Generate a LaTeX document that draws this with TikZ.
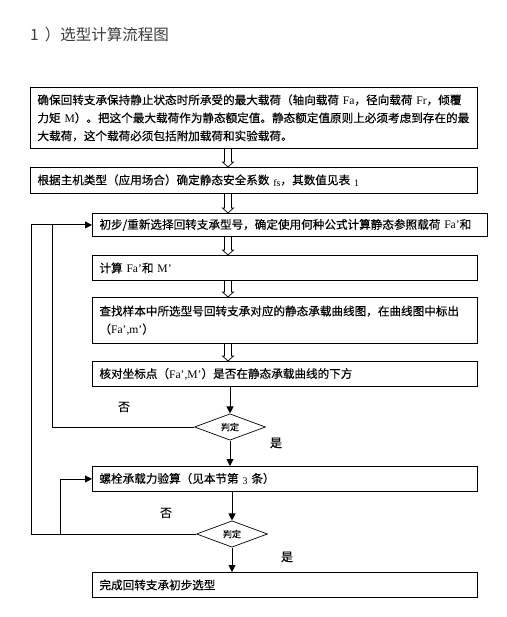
\documentclass[tikz,border=0pt]{standalone}
\usepackage{fontspec}
\setmainfont{Noto Sans CJK SC}
\newfontfamily\boxfont[FakeBold=0.4]{Noto Sans CJK SC}
\newfontfamily\lat{Liberation Serif}
\usetikzlibrary{shapes.geometric,arrows.meta,calc}
\definecolor{titlec}{HTML}{3C3C3C}
\newcommand\hollowarrow[2]{%
  \draw[hol] ($(#1)+(-3.5,0)$) -- ($(#2)+(-3.5,-5)$) -- ($(#2)+(-5.5,-5)$) -- (#2)
     -- ($(#2)+(5.5,-5)$) -- ($(#2)+(3.5,-5)$) -- ($(#1)+(3.5,0)$);}
\newcommand\lowsm[1]{\raisebox{-2pt}{\lat\fontsize{10}{10}\selectfont #1}}
\begin{document}
\begin{tikzpicture}[x=1pt,y=-1pt,
  box/.style={draw, line width=0.9pt, anchor=north west, inner xsep=7pt, inner ysep=0pt,
              align=left, font=\boxfont\fontsize{11.6}{18}\selectfont},
  dia/.style={draw, diamond, line width=0.7pt, inner sep=0pt, minimum width=71pt,
              minimum height=25pt, font=\boxfont\fontsize{9}{9}\selectfont},
  arr/.style={line width=0.9pt, -{Triangle[width=7pt,length=7pt]}},
  ln/.style={line width=0.9pt},
  lbl/.style={inner sep=0pt, font=\boxfont\fontsize{12}{12}\selectfont},
  hol/.style={line width=0.7pt}
]
\useasboundingbox (0,0) rectangle (506,617);

\node[anchor=west, inner sep=0pt, text=titlec, font=\fontsize{15.5}{16}\selectfont] (title) at (30,35) {1\hspace{6pt}）选型计算流程图};

\node[box, text width=433pt, minimum height=61pt] (b1) at (30,87)
  {\mbox{确保回转支承保持静止状态时所承受的最大载荷（轴向载荷 {\lat Fa}，径向载荷 {\lat Fr}，倾覆}\\
   \mbox{力矩 {\lat M}）。把这个最大载荷作为静态额定值。静态额定值原则上必须考虑到存在的最}\\
   \mbox{大载荷，这个载荷必须包括附加载荷和实验载荷。}};
\node[box, text width=433pt, minimum height=26pt] (b2) at (30,167)
  {\mbox{根据主机类型（应用场合）确定静态安全系数 \lowsm{fs}，其数值见表 \lowsm{1}}};
\node[box, text width=381pt, minimum height=23pt] (b3) at (92,213)
  {\mbox{初步/重新选择回转支承型号，确定使用何种公式计算静态参照载荷 {\lat Fa’}和}};
\node[box, text width=371pt, minimum height=25pt] (b4) at (92,255)
  {\mbox{计算 {\lat Fa’}和 {\lat M’}}};
\node[box, text width=371pt, minimum height=46pt] (b5) at (92,297)
  {\mbox{查找样本中所选型号回转支承对应的静态承载曲线图，在曲线图中标出}\\
   \mbox{（{\lat Fa’,m’}）}};
\node[box, text width=371pt, minimum height=25pt] (b6) at (92,361)
  {\mbox{核对坐标点（{\lat Fa’,M’}）是否在静态承载曲线的下方}};
\node[dia] (d1) at (230,427) {判定};
\node[box, text width=371pt, minimum height=25pt] (b7) at (92,466)
  {\mbox{螺栓承载力验算（见本节第 \lowsm{3} 条）}};
\node[dia] (d2) at (232,534) {判定};
\node[box, text width=371pt, minimum height=25pt] (b8) at (92,572)
  {\mbox{完成回转支承初步选型}};

% hollow arrows
\coordinate (ax) at (228,0);
\coordinate (h1t) at (b1.south -| ax); \coordinate (h1b) at (b2.north -| ax);
\coordinate (h2t) at (b2.south -| ax); \coordinate (h2b) at (b3.north -| ax);
\coordinate (h3t) at (b3.south -| ax); \coordinate (h3b) at (b4.north -| ax);
\coordinate (h4t) at (b4.south -| ax); \coordinate (h4b) at (b5.north -| ax);
\coordinate (h5t) at (b5.south -| ax); \coordinate (h5b) at (b6.north -| ax);
\hollowarrow{h1t}{h1b}
\hollowarrow{h2t}{h2b}
\hollowarrow{h3t}{h3b}
\hollowarrow{h4t}{h4b}
\hollowarrow{h5t}{h5b}

% solid arrows
\draw[arr] (b6.south -| d1.north) -- (d1.north);
\draw[arr] (d1.south) -- (d1.south |- b7.north);
\draw[arr] (b7.south -| d2.north) -- (d2.north);
\draw[arr] (d2.south) -- (d2.south |- b8.north);

% loops
\coordinate (xo) at (31,0);
\coordinate (xi) at (52,0);
\coordinate (xb) at (60,0);
\draw[arr] (d2.west) -- (d2.west -| xo) -- (b3.west -| xo) -- (b3.west);
\draw[ln] (d1.west) -- (d1.west -| xi) -- (b3.west -| xi);
\draw[arr] (d2.west -| xb) -- (b7.west -| xb) -- (b7.west);

% labels
\node[lbl] (n1) at (124,407) {否};
\node[lbl] (y1) at (276,443) {是};
\node[lbl] (n2) at (166,513) {否};
\node[lbl] (y2) at (287,557) {是};
\end{tikzpicture}
\end{document}
